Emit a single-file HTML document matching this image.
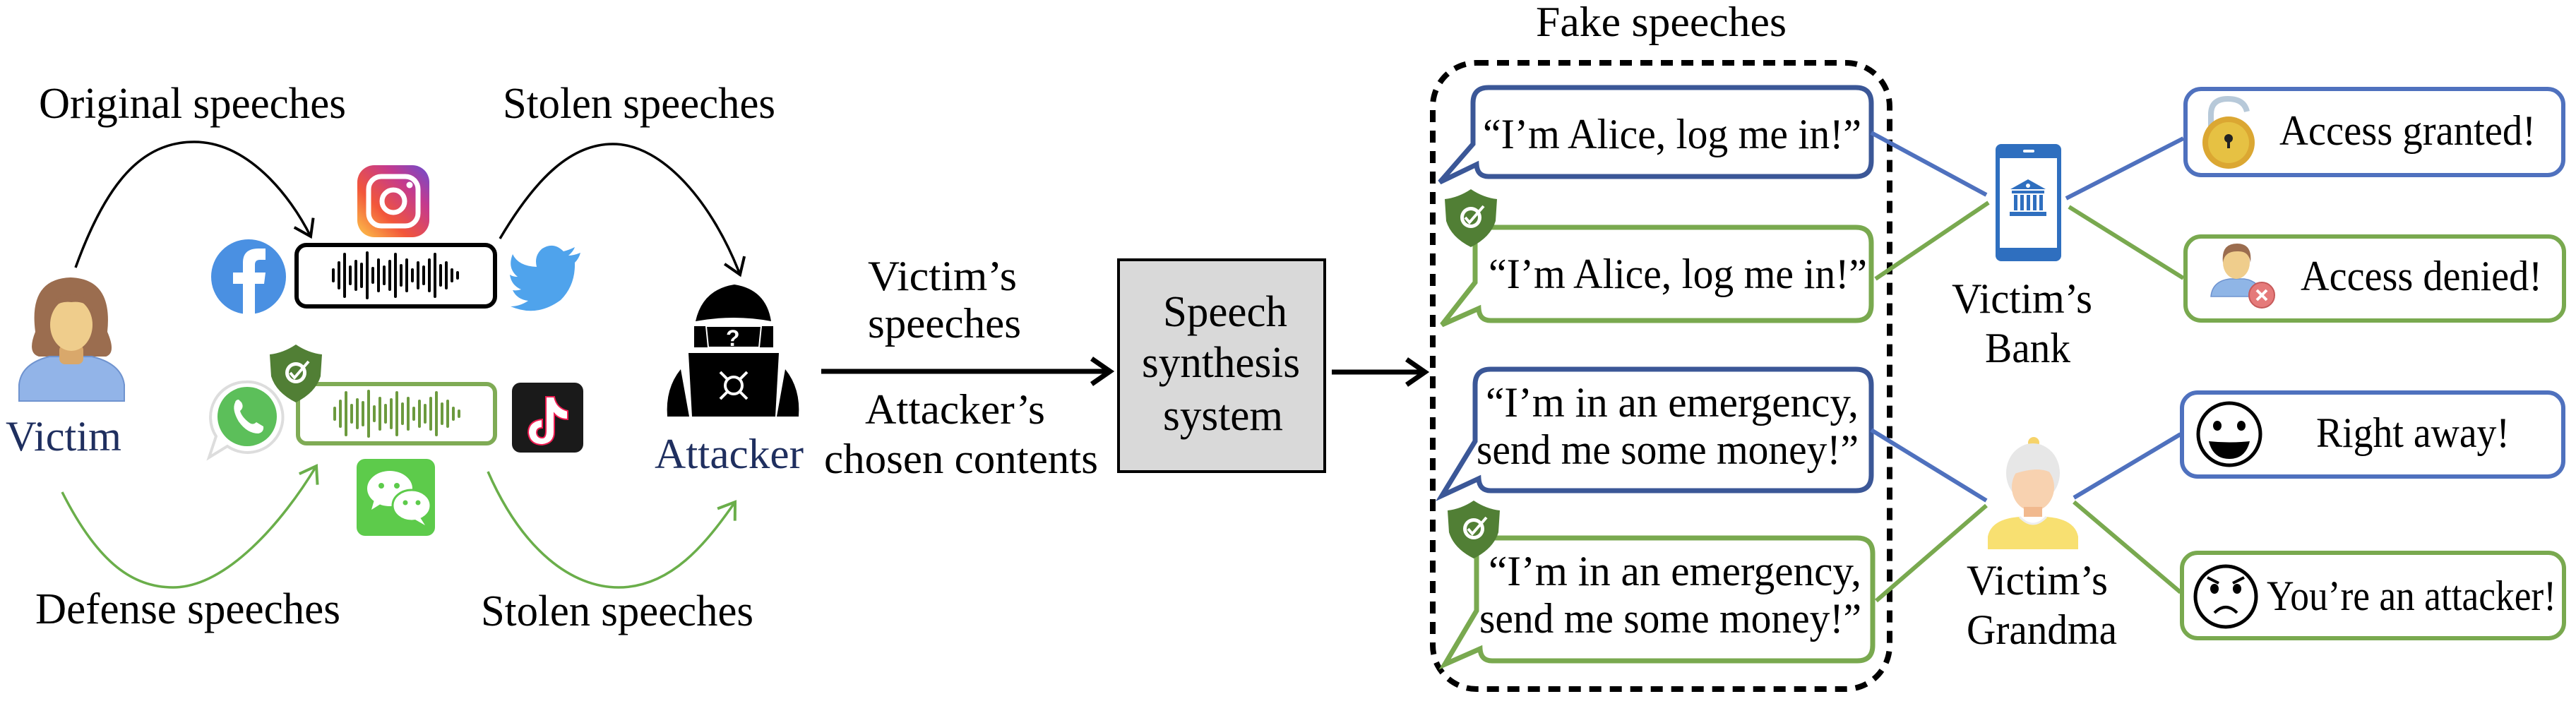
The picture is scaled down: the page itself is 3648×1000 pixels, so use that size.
<!DOCTYPE html>
<html><head><meta charset="utf-8"><style>
html,body{margin:0;padding:0;background:#fff;}
svg{display:block;font-family:"Liberation Serif","Times New Roman",serif;}
svg text{font-family:"Liberation Serif","Times New Roman",serif;fill:#000;}
</style></head><body>
<svg width="3648" height="1000" viewBox="0 0 3648 1000" xmlns="http://www.w3.org/2000/svg" font-family="Liberation Serif, serif">
<defs>
<marker id="ab" markerWidth="10" markerHeight="10" refX="9" refY="5" orient="auto" markerUnits="userSpaceOnUse" viewBox="0 0 10 10" style="overflow:visible">
<polyline points="-22,-10 0,5 -22,20" transform="translate(9,0)" fill="none" stroke="#000" stroke-width="4"/>
</marker>
<marker id="ag" markerWidth="10" markerHeight="10" refX="9" refY="5" orient="auto" markerUnits="userSpaceOnUse" viewBox="0 0 10 10" style="overflow:visible">
<polyline points="-22,-10 0,5 -22,20" transform="translate(9,0)" fill="none" stroke="#6aae4a" stroke-width="4"/>
</marker>
<marker id="am" markerWidth="10" markerHeight="10" refX="9" refY="5" orient="auto" markerUnits="userSpaceOnUse" viewBox="0 0 10 10" style="overflow:visible">
<polyline points="-26,-13 0,5 -26,23" transform="translate(9,0)" fill="none" stroke="#000" stroke-width="7"/>
</marker>
<g id="shield">
<path d="M0,-40 Q18,-28 37,-26 L35,5 Q28,28 0,42 Q-28,28 -35,5 L-37,-26 Q-18,-28 0,-40 Z" fill="#517f35"/>
<circle cx="0" cy="0" r="15" fill="#fff"/>
<circle cx="0" cy="0" r="10" fill="#517f35"/>
<polyline points="-8,0 -2,7 18,-16" fill="none" stroke="#fff" stroke-width="4"/>
</g>
</defs>

<g font-family="Liberation Serif, serif">
<!-- Left titles -->
<text x="55" y="167" font-size="62" textLength="435" lengthAdjust="spacingAndGlyphs">Original speeches</text>
<text x="712" y="167" font-size="62" textLength="386" lengthAdjust="spacingAndGlyphs">Stolen speeches</text>
<text x="50" y="883" font-size="62" textLength="432" lengthAdjust="spacingAndGlyphs">Defense speeches</text>
<text x="681" y="886" font-size="62" textLength="386" lengthAdjust="spacingAndGlyphs">Stolen speeches</text>

<!-- arcs -->
<path d="M107,379 C150,260 200,201 275,201 C350,201 410,275 440,335" fill="none" stroke="#000" stroke-width="3.5" marker-end="url(#ab)"/>
<path d="M708,338 C760,250 810,204 868,204 C940,204 1010,290 1048,389" fill="none" stroke="#000" stroke-width="3.5" marker-end="url(#ab)"/>
<path d="M88,697 C140,800 190,832 245,832 C320,832 400,740 448,660" fill="none" stroke="#6aae4a" stroke-width="3.5" marker-end="url(#ag)"/>
<path d="M691,668 C740,780 810,832 876,832 C950,832 1000,770 1041,711" fill="none" stroke="#6aae4a" stroke-width="3.5" marker-end="url(#ag)"/>

<!-- Victim icon -->
<g>
<path d="M50,470 Q40,395 100,393 Q160,395 152,470 Q165,500 150,505 L55,505 Q38,500 50,470 Z" fill="#9b6d4f"/>
<path d="M27,568 L27,545 Q30,515 70,505 L130,505 Q172,515 176,545 L176,568 Z" fill="#92b4e8" stroke="#6f93cf" stroke-width="2"/>
<rect x="84" y="488" width="34" height="28" rx="8" fill="#d9a86b"/>
<ellipse cx="101" cy="460" rx="30" ry="37" fill="#efcd8c"/>
<path d="M70,450 Q75,415 101,418 Q128,415 133,450 Q128,425 101,428 Q75,425 70,450Z" fill="#9b6d4f"/>
</g>
<text x="8" y="638" font-size="60" style="fill:#1f2f5f" textLength="164" lengthAdjust="spacingAndGlyphs">Victim</text>

<!-- Instagram -->
<defs><linearGradient id="ig" x1="0" y1="1" x2="1" y2="0"><stop offset="0" stop-color="#fdc74a"/><stop offset="0.35" stop-color="#f2563a"/><stop offset="0.7" stop-color="#c43a8e"/><stop offset="1" stop-color="#6a4ed0"/></linearGradient></defs>
<rect x="506" y="234" width="102" height="102" rx="24" fill="url(#ig)"/>
<rect x="522" y="250" width="70" height="70" rx="18" fill="none" stroke="#fff" stroke-width="7"/>
<circle cx="557" cy="285" r="16" fill="none" stroke="#fff" stroke-width="7"/>
<circle cx="580" cy="262" r="4.5" fill="#fff"/>

<!-- Facebook -->
<circle cx="352" cy="392" r="53" fill="#4a90e2"/>
<path d="M344,445 L344,402 L330,402 L330,386 L344,386 L344,372 Q344,352 366,352 L376,352 L376,368 L368,368 Q361,368 361,375 L361,386 L376,386 L374,402 L361,402 L361,445 Z" fill="#fff"/>

<!-- black wave box -->
<rect x="420" y="347" width="281" height="87" rx="14" fill="#fff" stroke="#000" stroke-width="6"/>
<g stroke="#000" stroke-width="4" stroke-linecap="round">
<line x1="472" y1="382" x2="472" y2="398"/><line x1="480" y1="372" x2="480" y2="408"/><line x1="488" y1="360" x2="488" y2="420"/><line x1="496" y1="378" x2="496" y2="402"/><line x1="504" y1="370" x2="504" y2="410"/><line x1="512" y1="374" x2="512" y2="406"/><line x1="520" y1="358" x2="520" y2="422"/><line x1="528" y1="380" x2="528" y2="400"/><line x1="536" y1="368" x2="536" y2="412"/><line x1="544" y1="378" x2="544" y2="402"/><line x1="552" y1="370" x2="552" y2="410"/><line x1="560" y1="360" x2="560" y2="420"/><line x1="568" y1="376" x2="568" y2="404"/><line x1="576" y1="368" x2="576" y2="412"/><line x1="584" y1="382" x2="584" y2="398"/><line x1="592" y1="372" x2="592" y2="408"/><line x1="600" y1="378" x2="600" y2="402"/><line x1="608" y1="368" x2="608" y2="412"/><line x1="616" y1="360" x2="616" y2="420"/><line x1="624" y1="376" x2="624" y2="404"/><line x1="632" y1="372" x2="632" y2="408"/><line x1="640" y1="382" x2="640" y2="398"/><line x1="648" y1="386" x2="648" y2="394"/>
</g>

<!-- Twitter -->
<path d="M822,358 Q812,362 805,362 Q812,356 814,350 Q806,354 798,356 Q784,342 768,352 Q756,362 760,378 Q734,377 726,360 Q718,380 733,392 Q726,392 722,389 Q724,404 738,410 Q732,412 726,411 Q732,424 748,426 Q736,434 723,434 Q760,450 794,425 Q815,404 814,372 Q820,366 822,358Z" fill="#4fa3ec"/>

<!-- green wave box + shield -->
<rect x="422" y="544" width="279" height="84" rx="12" fill="#fff" stroke="#7fab55" stroke-width="6"/>
<g stroke="#6c9a3e" stroke-width="4" stroke-linecap="round">
<line x1="474" y1="578" x2="474" y2="594"/><line x1="482" y1="568" x2="482" y2="604"/><line x1="490" y1="556" x2="490" y2="616"/><line x1="498" y1="574" x2="498" y2="598"/><line x1="506" y1="566" x2="506" y2="606"/><line x1="514" y1="570" x2="514" y2="602"/><line x1="522" y1="554" x2="522" y2="618"/><line x1="530" y1="576" x2="530" y2="596"/><line x1="538" y1="564" x2="538" y2="608"/><line x1="546" y1="574" x2="546" y2="598"/><line x1="554" y1="566" x2="554" y2="606"/><line x1="562" y1="556" x2="562" y2="616"/><line x1="570" y1="572" x2="570" y2="600"/><line x1="578" y1="564" x2="578" y2="608"/><line x1="586" y1="578" x2="586" y2="594"/><line x1="594" y1="568" x2="594" y2="604"/><line x1="602" y1="574" x2="602" y2="598"/><line x1="610" y1="564" x2="610" y2="608"/><line x1="618" y1="556" x2="618" y2="616"/><line x1="626" y1="572" x2="626" y2="600"/><line x1="634" y1="568" x2="634" y2="604"/><line x1="642" y1="578" x2="642" y2="594"/><line x1="650" y1="582" x2="650" y2="590"/>
</g>
<use href="#shield" transform="translate(419,528)"/>

<!-- WhatsApp -->
<path d="M348,541 A50,50 0 1 1 322,632 L296,648 L306,618 A50,50 0 0 1 348,541Z" fill="#fff" stroke="#ddd" stroke-width="4"/>
<circle cx="350" cy="590" r="42" fill="#5cbf5a"/>
<path d="M333,570 Q328,580 338,597 Q350,614 366,614 Q374,612 373,604 L363,598 Q358,603 352,598 Q342,590 340,582 Q346,577 342,570 L338,566 Q334,566 333,570Z" fill="#fff"/>

<!-- TikTok -->
<rect x="725" y="542" width="101" height="99" rx="12" fill="#1a1a1a"/>
<path d="M773,562 L785,562 Q788,578 804,582 L804,594 Q792,594 785,586 L785,612 Q785,628 768,630 Q750,630 748,613 Q748,596 768,594 L768,606 Q760,606 760,613 Q761,620 768,620 Q773,620 773,610 Z" fill="#fff" stroke="#ee1d52" stroke-width="2"/>

<!-- WeChat -->
<rect x="505" y="650" width="111" height="109" rx="12" fill="#5dcb4b"/>
<ellipse cx="552" cy="692" rx="32" ry="25" fill="#fff"/>
<path d="M530,708 L526,722 L542,712Z" fill="#fff"/>
<ellipse cx="583" cy="716" rx="27" ry="22" fill="#fff" stroke="#5dcb4b" stroke-width="3"/>
<path d="M595,733 L602,744 L588,736Z" fill="#fff"/>
<circle cx="540" cy="688" r="4" fill="#5dcb4b"/><circle cx="562" cy="688" r="4" fill="#5dcb4b"/>
<circle cx="574" cy="712" r="3.5" fill="#5dcb4b"/><circle cx="592" cy="712" r="3.5" fill="#5dcb4b"/>

<!-- Hacker -->
<g>
<path d="M985,455 Q995,410 1040,403 Q1085,410 1092,455 Q1040,445 985,455Z" fill="#000"/>
<path d="M983,462 L1095,462 L1095,492 L983,492 Z" fill="#000"/>
<path d="M1000,462 L1078,462 L1075,492 L1003,492Z" fill="#000" stroke="#fff" stroke-width="2"/>
<text x="1028" y="490" font-size="32" font-family="Liberation Sans, sans-serif" font-weight="bold" style="fill:#fff;font-family:'Liberation Sans',sans-serif">?</text>
<path d="M964,523 L976,590 L945,590 Q942,550 964,523Z" fill="#000"/>
<path d="M1112,523 Q1134,550 1131,590 L1100,590 Z" fill="#000"/>
<path d="M975,500 L1103,500 L1098,590 L980,590Z" fill="#000"/>
<circle cx="1039" cy="546" r="12" fill="none" stroke="#fff" stroke-width="4"/>
<g stroke="#fff" stroke-width="4"><line x1="1020" y1="527" x2="1030" y2="537"/><line x1="1058" y1="527" x2="1048" y2="537"/><line x1="1020" y1="565" x2="1030" y2="555"/><line x1="1058" y1="565" x2="1048" y2="555"/></g>
</g>
<text x="927" y="663" font-size="60" style="fill:#1f2f5f" textLength="211" lengthAdjust="spacingAndGlyphs">Attacker</text>

<!-- Middle -->
<text x="1229" y="411" font-size="60" textLength="211" lengthAdjust="spacingAndGlyphs">Victim’s</text>
<text x="1229" y="478" font-size="60" textLength="217" lengthAdjust="spacingAndGlyphs">speeches</text>
<text x="1225" y="600" font-size="60" textLength="255" lengthAdjust="spacingAndGlyphs">Attacker’s</text>
<text x="1167" y="670" font-size="60" textLength="388" lengthAdjust="spacingAndGlyphs">chosen contents</text>
<line x1="1163" y1="526" x2="1572" y2="526" stroke="#000" stroke-width="7" marker-end="url(#am)"/>
<rect x="1584" y="368" width="292" height="300" fill="#d9d9d9" stroke="#000" stroke-width="4"/>
<text x="1735" y="462" font-size="62" text-anchor="middle" textLength="176" lengthAdjust="spacingAndGlyphs">Speech</text>
<text x="1729" y="534" font-size="62" text-anchor="middle" textLength="224" lengthAdjust="spacingAndGlyphs">synthesis</text>
<text x="1732" y="609" font-size="62" text-anchor="middle" textLength="170" lengthAdjust="spacingAndGlyphs">system</text>
<line x1="1886" y1="527" x2="2018" y2="527" stroke="#000" stroke-width="7" marker-end="url(#am)"/>

<!-- Fake speeches dashed container -->
<text x="2175" y="51" font-size="60" textLength="355" lengthAdjust="spacingAndGlyphs">Fake speeches</text>
<rect x="2029" y="89" width="647" height="887" rx="62" fill="none" stroke="#000" stroke-width="8" stroke-dasharray="17,12"/>

<!-- Bubbles -->
<path d="M2108,124 H2628 Q2650,124 2650,146 V228 Q2650,250 2628,250 H2108 Q2092,250 2091,233 L2039,258 L2086,204 V146 Q2086,124 2108,124 Z" fill="#fff" stroke="#3b5797" stroke-width="7" stroke-linejoin="miter"/>
<text x="2100" y="210" font-size="60" textLength="536" lengthAdjust="spacingAndGlyphs">“I’m Alice, log me in!”</text>

<path d="M2111,322 H2628 Q2650,322 2650,344 V432 Q2650,454 2628,454 H2111 Q2095,454 2094,437 L2042,460 L2089,400 V344 Q2089,322 2111,322 Z" fill="#fff" stroke="#79a94f" stroke-width="7"/>
<text x="2108" y="408" font-size="60" textLength="536" lengthAdjust="spacingAndGlyphs">“I’m Alice, log me in!”</text>
<use href="#shield" transform="translate(2083,308)"/>

<path d="M2111,523 H2628 Q2650,523 2650,545 V673 Q2650,695 2628,695 H2111 Q2095,695 2094,678 L2042,702 L2089,625 V545 Q2089,523 2111,523 Z" fill="#fff" stroke="#3b5797" stroke-width="7"/>
<text x="2104" y="590" font-size="60" textLength="528" lengthAdjust="spacingAndGlyphs">“I’m in an emergency,</text>
<text x="2091" y="657" font-size="60" textLength="541" lengthAdjust="spacingAndGlyphs">send me some money!”</text>

<path d="M2113,762 H2630 Q2652,762 2652,784 V914 Q2652,936 2630,936 H2113 Q2097,936 2096,919 L2046,941 L2091,865 V784 Q2091,762 2113,762 Z" fill="#fff" stroke="#79a94f" stroke-width="7"/>
<text x="2108" y="829" font-size="60" textLength="528" lengthAdjust="spacingAndGlyphs">“I’m in an emergency,</text>
<text x="2095" y="896" font-size="60" textLength="541" lengthAdjust="spacingAndGlyphs">send me some money!”</text>
<use href="#shield" transform="translate(2087,749)"/>

<!-- connectors -->
<g stroke-width="6">
<line x1="2650" y1="188" x2="2813" y2="276" stroke="#4f71be"/>
<line x1="2656" y1="395" x2="2816" y2="287" stroke="#79a94f"/>
<line x1="2926" y1="281" x2="3092" y2="196" stroke="#4f71be"/>
<line x1="2930" y1="293" x2="3092" y2="394" stroke="#79a94f"/>
<line x1="2650" y1="609" x2="2813" y2="709" stroke="#4f71be"/>
<line x1="2657" y1="851" x2="2813" y2="716" stroke="#79a94f"/>
<line x1="2937" y1="705" x2="3088" y2="615" stroke="#4f71be"/>
<line x1="2937" y1="711" x2="3088" y2="839" stroke="#79a94f"/>
</g>

<!-- Phone -->
<rect x="2826" y="204" width="93" height="166" rx="8" fill="#2f6fbf"/>
<rect x="2832" y="224" width="81" height="127" fill="#fff"/>
<rect x="2865" y="212" width="16" height="4" rx="2" fill="#fff"/>
<g fill="#2f6fbf">
<path d="M2872,254 L2897,268 L2847,268 Z"/><circle cx="2872" cy="263" r="3" fill="#fff"/>
<rect x="2849" y="270" width="46" height="4"/>
<rect x="2852" y="276" width="5" height="22"/><rect x="2861" y="276" width="5" height="22"/><rect x="2870" y="276" width="5" height="22"/><rect x="2879" y="276" width="5" height="22"/><rect x="2888" y="276" width="5" height="22"/>
<rect x="2846" y="300" width="52" height="6"/>
</g>
<text x="2764" y="443" font-size="60" textLength="199" lengthAdjust="spacingAndGlyphs">Victim’s</text>
<text x="2811" y="513" font-size="60" textLength="121" lengthAdjust="spacingAndGlyphs">Bank</text>

<!-- Grandma -->
<g>
<circle cx="2880" cy="627" r="8" fill="#f6d36a"/>
<ellipse cx="2879" cy="670" rx="38" ry="42" fill="#e7e7e7"/>
<ellipse cx="2879" cy="690" rx="30" ry="34" fill="#f8d2b0"/>
<path d="M2850,672 Q2855,645 2879,645 Q2905,645 2908,672 Q2890,658 2850,672Z" fill="#e7e7e7"/>
<rect x="2866" y="718" width="26" height="20" fill="#f1b98e"/>
<path d="M2815,778 L2815,760 Q2820,735 2860,732 L2898,732 Q2938,735 2943,760 L2943,778 Z" fill="#f8e071"/>
<path d="M2860,732 Q2879,752 2898,732" fill="#fff" stroke="#eee" stroke-width="3"/>
</g>
<text x="2785" y="842" font-size="60" textLength="200" lengthAdjust="spacingAndGlyphs">Victim’s</text>
<text x="2785" y="912" font-size="60" textLength="213" lengthAdjust="spacingAndGlyphs">Grandma</text>

<!-- Right boxes -->
<rect x="3095" y="126" width="535" height="122" rx="22" fill="#fff" stroke="#4f71be" stroke-width="6"/>
<text x="3228" y="205" font-size="60" textLength="363" lengthAdjust="spacingAndGlyphs">Access granted!</text>
<path d="M3131,180 L3131,162 Q3131,140 3155,140 Q3178,140 3182,158" fill="none" stroke="#b7c9d9" stroke-width="8"/>
<circle cx="3156" cy="202" r="37" fill="#dba732"/>
<circle cx="3156" cy="202" r="29" fill="#e6c143"/>
<circle cx="3156" cy="196" r="6" fill="#222"/><rect x="3154" y="196" width="4" height="14" fill="#222"/>

<rect x="3095" y="335" width="536" height="119" rx="22" fill="#fff" stroke="#79a94f" stroke-width="6"/>
<text x="3258" y="411" font-size="60" textLength="342" lengthAdjust="spacingAndGlyphs">Access denied!</text>
<path d="M3131,420 Q3133,398 3158,395 L3178,395 Q3200,398 3205,420 Z" fill="#8fb5e6" stroke="#6f93cf" stroke-width="1.5"/>
<ellipse cx="3167" cy="372" rx="19" ry="23" fill="#efcd8c"/>
<path d="M3148,372 Q3145,345 3168,345 Q3190,345 3187,372 Q3185,355 3168,356 Q3150,356 3148,372Z" fill="#9b6d4f"/>
<circle cx="3203" cy="418" r="18" fill="#e57a7a" stroke="#c65a5a" stroke-width="2"/>
<g stroke="#fff" stroke-width="4"><line x1="3196" y1="411" x2="3210" y2="425"/><line x1="3210" y1="411" x2="3196" y2="425"/></g>

<rect x="3090" y="556" width="540" height="119" rx="22" fill="#fff" stroke="#4f71be" stroke-width="6"/>
<text x="3280" y="633" font-size="60" textLength="274" lengthAdjust="spacingAndGlyphs">Right away!</text>
<circle cx="3157" cy="615" r="44" fill="#fff" stroke="#000" stroke-width="5"/>
<ellipse cx="3140" cy="603" rx="6" ry="7"/><ellipse cx="3174" cy="603" rx="6" ry="7"/>
<path d="M3128,625 Q3157,628 3186,625 Q3180,650 3157,650 Q3134,650 3128,625Z" fill="#000"/>

<rect x="3090" y="783" width="541" height="121" rx="22" fill="#fff" stroke="#79a94f" stroke-width="6"/>
<text x="3210" y="864" font-size="60" textLength="410" lengthAdjust="spacingAndGlyphs">You’re an attacker!</text>
<circle cx="3152" cy="845" r="43" fill="#fff" stroke="#000" stroke-width="5"/>
<ellipse cx="3136" cy="834" rx="6" ry="7"/><ellipse cx="3168" cy="834" rx="6" ry="7"/>
<g stroke="#000" stroke-width="4" fill="none"><line x1="3126" y1="818" x2="3142" y2="826"/><line x1="3178" y1="818" x2="3162" y2="826"/><path d="M3136,868 Q3152,852 3168,868"/></g>
</g>
</svg>
</body></html>
